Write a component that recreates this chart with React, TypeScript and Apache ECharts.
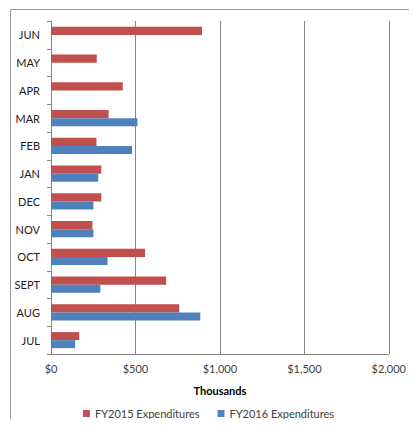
import React, { useEffect, useRef } from "react";
import * as echarts from "echarts";

// Months, July (bottom) to June (top)
const months = ["JUL", "AUG", "SEPT", "OCT", "NOV", "DEC", "JAN", "FEB", "MAR", "APR", "MAY", "JUN"];
// Expenditures in thousands of dollars
const fy2015 = [167, 759, 682, 557, 245, 298, 298, 269, 341, 425, 271, 894];
const fy2016: (number | null)[] = [143, 884, 292, 335, 251, 251, 280, 480, 512, null, null, null];
const xTicks = [0, 500, 1000, 1500, 2000];

const FONT = "Lato, 'Open Sans', sans-serif";

export default function App() {
  const ref = useRef<HTMLDivElement>(null);
  useEffect(() => {
    if (!ref.current) return;
    const chart = echarts.init(ref.current, undefined, { renderer: "svg" });
    chart.setOption({
      animation: false,
      backgroundColor: "#ffffff",
      textStyle: { fontFamily: FONT },
      graphic: [
        { type: "line", shape: { x1: 2.5, y1: 1.5, x2: 420, y2: 1.5 }, style: { stroke: "#9a9a9a", lineWidth: 1 } },
        { type: "line", shape: { x1: 2.5, y1: 1.5, x2: 2.5, y2: 430 }, style: { stroke: "#9a9a9a", lineWidth: 1 } },
      ],
      grid: { left: 43, top: 13, width: 339, height: 333 },
      legend: {
        top: 400,
        left: "center",
        padding: 0,
        itemWidth: 7,
        itemHeight: 7,
        itemGap: 18,
        icon: "rect",
        textStyle: { fontSize: 11, color: "#404040", fontFamily: FONT },
        data: ["FY2015 Expenditures", "FY2016 Expenditures"],
      },
      xAxis: {
        type: "value",
        min: xTicks[0],
        max: xTicks[xTicks.length - 1],
        interval: 500,
        name: "Thousands",
        nameLocation: "middle",
        nameGap: 31,
        nameTextStyle: { fontWeight: "bold", fontSize: 11, color: "#000", fontFamily: FONT },
        axisLine: { show: true, lineStyle: { color: "#868686" } },
        axisTick: { show: false },
        splitLine: { show: true, lineStyle: { color: "#868686", width: 1 } },
        axisLabel: {
          fontSize: 11,
          color: "#404040",
          margin: 9,
          formatter: (v: number) => "$" + v.toLocaleString("en-US"),
        },
      },
      yAxis: {
        type: "category",
        data: months,
        axisLine: { show: true, lineStyle: { color: "#868686" } },
        axisTick: { show: true, length: 4, lineStyle: { color: "#868686" } },
        axisLabel: { fontSize: 11, color: "#202020", margin: 11 },
        splitLine: { show: false },
      },
      series: [
        {
          name: "FY2015 Expenditures",
          type: "bar",
          data: fy2015,
          itemStyle: { color: "#C0504D" },
          barGap: "0%",
          barCategoryGap: "42%",
        },
        {
          name: "FY2016 Expenditures",
          type: "bar",
          data: fy2016,
          itemStyle: { color: "#4F81BD" },
          barGap: "0%",
          barCategoryGap: "42%",
        },
      ],
    });
    return () => chart.dispose();
  }, []);
  return <div ref={ref} style={{ width: 401, height: 419, marginBottom: -8 }} />;
}
